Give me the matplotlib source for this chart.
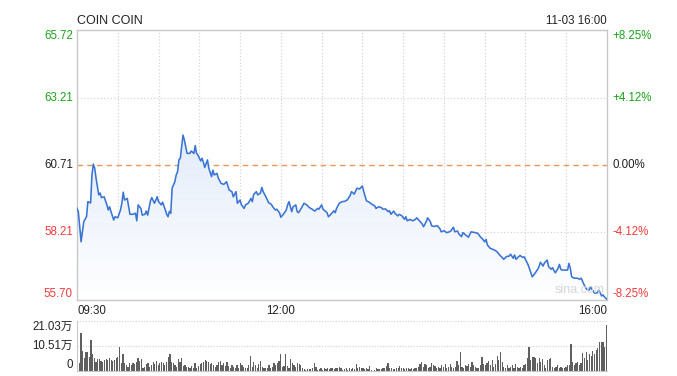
import numpy as np
import matplotlib
matplotlib.use("Agg")
import matplotlib.pyplot as plt
from matplotlib.colors import LinearSegmentedColormap
import matplotlib.transforms as mtransforms

plt.rcParams['font.family'] = ['Liberation Sans', 'Noto Sans CJK SC', 'DejaVu Sans']

# intraday price, minutes after 09:30
minutes = [0, 1, 3, 4, 5, 7, 8, 10, 11, 12, 13, 14, 16, 17, 18, 20, 22, 23, 24, 25, 27, 28, 30,
           32, 33, 34, 35, 37, 38, 39, 41, 43, 44, 45, 47, 48, 50, 51, 52, 54, 55, 57, 59, 60,
           62, 63, 65, 66, 67, 68, 69, 70, 72, 73, 74, 75, 76, 77, 78, 79, 81, 83, 84, 86, 87,
           88, 89, 91, 92, 93, 94, 96, 97, 99, 100, 101, 103, 104, 106, 108, 110, 112, 114, 115,
           117, 118, 120, 121, 123, 124, 126, 128, 129, 130, 132, 133, 135, 136, 137, 139, 141,
           143, 144, 146, 147, 149, 150, 152, 154, 155, 156, 158, 159, 161, 162, 163, 165, 167,
           169, 171, 173, 175, 177, 178, 180, 181, 183, 184, 185, 187, 189, 190, 191, 193, 195,
           197, 199, 201, 202, 204, 206, 208, 209, 210, 211, 213, 215, 217, 219, 220, 222, 224,
           225, 227, 229, 230, 231, 233, 234, 236, 237, 239, 241, 242, 243, 245, 247, 249, 250,
           252, 254, 255, 257, 258, 260, 261, 263, 265, 267, 268, 270, 272, 274, 275, 277, 278,
           280, 281, 283, 284, 286, 288, 290, 292, 293, 295, 297, 298, 300, 301, 302, 304, 306,
           308, 309, 311, 313, 314, 316, 318, 319, 321, 322, 323, 325, 326, 328, 329, 330, 332,
           334, 335, 337, 339, 340, 341, 343, 344, 346, 347, 349, 350, 351, 352, 354, 355, 356,
           357, 359, 361, 362, 363, 364, 366, 368, 370, 371, 373, 375, 377, 378, 380, 381, 383,
           384, 386, 387, 388, 390]
prices = [59.10, 58.97, 57.86, 58.23, 58.61, 58.79, 59.35, 59.30, 60.34, 60.74, 60.60, 60.23,
          59.60, 59.67, 59.50, 59.53, 59.23, 59.04, 59.16, 58.98, 58.67, 58.79, 58.75, 59.04,
          59.29, 59.70, 59.41, 59.47, 59.16, 58.88, 58.88, 58.92, 58.64, 59.23, 59.10, 58.85,
          58.88, 59.00, 58.85, 59.37, 59.50, 59.29, 59.53, 59.35, 59.23, 59.33, 59.04, 58.88,
          58.79, 58.99, 58.92, 59.85, 60.09, 60.34, 60.46, 60.90, 60.96, 61.39, 61.82, 61.64,
          61.14, 61.14, 61.23, 61.14, 61.43, 61.14, 61.08, 60.86, 60.96, 60.81, 60.62, 60.90,
          60.59, 60.28, 60.52, 60.34, 60.40, 60.22, 60.03, 59.99, 60.09, 59.78, 59.72, 59.53,
          59.72, 59.29, 59.41, 59.23, 59.10, 59.23, 59.29, 59.47, 59.35, 59.62, 59.72, 59.60,
          59.67, 59.88, 59.72, 59.53, 59.31, 59.25, 59.16, 59.04, 59.07, 58.94, 58.77, 58.89,
          59.04, 59.23, 59.35, 58.98, 59.16, 59.23, 58.98, 58.94, 59.10, 59.29, 59.23, 59.13,
          59.07, 59.00, 59.10, 59.07, 59.23, 59.07, 58.98, 58.94, 58.79, 58.89, 59.01, 58.94,
          59.10, 59.29, 59.35, 59.36, 59.42, 59.58, 59.72, 59.63, 59.85, 59.82, 59.88, 59.93,
          59.72, 59.38, 59.33, 59.25, 59.20, 59.10, 59.16, 59.13, 59.07, 59.08, 58.98, 59.01,
          58.88, 59.00, 58.92, 58.82, 58.88, 58.83, 58.69, 58.79, 58.64, 58.69, 58.64, 58.69,
          58.75, 58.64, 58.52, 58.42, 58.61, 58.75, 58.61, 58.45, 58.43, 58.46, 58.35, 58.23,
          58.27, 58.20, 58.23, 58.26, 58.40, 58.23, 58.26, 58.15, 58.05, 58.20, 58.11, 58.03,
          58.23, 58.21, 58.20, 58.17, 58.03, 57.99, 57.86, 57.95, 57.74, 57.62, 57.58, 57.53,
          57.49, 57.37, 57.27, 57.21, 57.31, 57.33, 57.40, 57.25, 57.37, 57.21, 57.31, 57.35,
          57.28, 57.30, 57.21, 57.00, 56.71, 56.56, 56.69, 56.84, 56.94, 57.10, 56.96, 57.08,
          57.18, 56.94, 56.84, 56.90, 56.79, 56.71, 56.88, 57.02, 56.84, 56.81, 56.81, 56.81,
          57.06, 56.88, 56.56, 56.51, 56.51, 56.47, 56.51, 56.28, 56.10, 56.07, 56.19, 56.01,
          55.95, 55.97, 56.07, 55.85, 55.89, 55.82, 55.72]

# volume in 万 shares, read left to right across the session
volume = [21.0, 3.2, 15.8, 8.4, 5.3, 7.8, 8.1, 6.0, 13.0, 7.0, 5.3, 3.9, 4.9, 5.0, 4.2, 3.9,
          4.6, 4.9, 4.6, 5.3, 4.6, 4.2, 4.6, 5.6, 6.0, 10.2, 3.2, 7.0, 3.2, 2.5, 1.8, 3.2, 2.5,
          3.2, 2.8, 3.9, 5.3, 4.2, 4.9, 1.4, 1.8, 2.8, 3.2, 1.8, 2.5, 3.9, 2.8, 4.2, 2.5, 3.2,
          3.9, 3.5, 2.5, 3.9, 6.0, 7.0, 3.9, 3.2, 2.5, 1.8, 4.9, 3.9, 5.6, 2.1, 2.5, 1.8, 1.8,
          1.4, 2.2, 1.1, 3.2, 1.4, 2.2, 2.8, 3.2, 3.9, 4.5, 4.2, 3.6, 2.8, 3.2, 2.5, 1.8, 2.5,
          3.9, 4.2, 2.5, 3.2, 2.2, 3.9, 2.1, 1.4, 2.5, 1.8, 1.4, 2.5, 1.4, 3.5, 2.5, 1.8, 1.4,
          1.1, 2.5, 6.3, 1.8, 3.9, 2.5, 1.4, 2.8, 4.2, 1.8, 1.4, 1.1, 1.4, 2.5, 1.4, 1.8, 3.5,
          2.5, 3.2, 4.2, 7.0, 1.8, 2.1, 7.0, 2.1, 1.4, 4.9, 3.5, 2.5, 1.8, 3.2, 2.8, 2.5, 1.1,
          0.8, 0.4, 0.7, 0.7, 0.8, 1.1, 3.5, 1.8, 0.4, 0.7, 1.1, 0.4, 1.4, 0.7, 1.1, 0.8, 1.4,
          1.1, 0.7, 1.4, 1.1, 1.8,
          1.1, 0.4, 0.8, 1.1, 0.4, 1.4, 0.8, 1.1, 0.7, 2.8, 1.4, 1.8, 1.1, 1.4, 0.8, 1.1, 0.7,
          2.2, 0.4, 0.1, 0.4, 1.1, 0.7, 0.8, 0.7, 1.1, 1.4, 2.1, 3.2, 1.4, 1.1, 0.7, 0.7, 1.1,
          1.4, 2.2, 1.1, 1.4, 0.8, 1.4, 1.1, 0.7, 1.4, 0.8, 1.1, 1.4, 1.8, 2.8, 3.6, 1.8, 2.8,
          2.5, 1.4, 1.8, 3.2, 2.5, 2.1, 1.1, 1.8, 1.4, 2.5, 1.8, 2.8, 1.4, 1.8, 2.8, 1.8, 1.1,
          1.8, 4.2, 2.5, 7.8, 1.8, 1.4, 2.5, 2.1, 2.8, 1.8, 3.9, 2.5, 1.8, 1.4, 1.4, 2.5, 6.0,
          2.8, 2.5, 3.2, 4.2, 2.5, 4.6, 1.8, 2.8, 6.4, 4.6, 8.1, 3.9, 1.8, 1.4, 2.5, 1.1, 1.8,
          2.5, 1.4, 2.8, 1.8, 1.1, 1.8, 1.4, 2.5, 2.8, 5.3, 10.2, 4.6, 6.0, 6.0, 5.3, 3.2, 5.3,
          3.9, 5.0, 2.5, 1.1, 4.6, 5.0, 5.3, 1.8, 1.4, 1.8, 2.5, 1.4, 1.8, 1.1, 1.4, 1.8, 2.5,
          2.5, 11.2, 3.9, 2.5, 3.2, 3.9, 2.5, 3.2, 7.7, 5.6, 7.8, 4.6, 7.0, 6.4, 8.4, 7.0, 8.8,
          9.8, 12.3, 12.0, 12.0, 10.2, 19.3]

prev_close = 60.71
price_ticks = [55.70, 58.21, 60.71, 63.21, 65.72]
pct_labels = ['-8.25%', '-4.12%', '0.00%', '+4.12%', '+8.25%']
vol_ticks = [0, 10.51, 21.03]
vol_labels = ['0', '10.51万', '21.03万']
time_ticks = [0, 150, 390]
time_labels = ['09:30', '12:00', '16:00']

GREEN = '#1aa31a'
RED = '#f03c3c'
DARK = '#222222'
LINE = '#3a74d4'
GRID = '#cfcfcf'

fig = plt.figure(figsize=(6.77, 3.76), dpi=100)
ax = fig.add_axes([77/677, 1-300/376, 530/677, 270/376])
axv = fig.add_axes([77/677, 1-371/376, 530/677, 50/376])

# --- price panel ---
ax.set_xlim(0, 390)
ax.set_ylim(price_ticks[0], price_ticks[-1])
for t in range(30, 390, 30):
    ax.axvline(t, color=GRID, lw=0.8, ls=(0, (1, 2)), zorder=1)
for p in [price_ticks[1], price_ticks[3]]:
    ax.axhline(p, color=GRID, lw=0.8, ls=(0, (1, 2)), zorder=1)
ax.axhline(prev_close, color='#f0955a', lw=1.0, ls=(0, (4, 3)), zorder=1)

poly = ax.fill_between(minutes, prices, price_ticks[0], color='none', lw=0)
cmap = LinearSegmentedColormap.from_list('g', ['#ffffff', '#e3ecfa'])
grad = np.linspace(0, 1, 256).reshape(-1, 1)
img = ax.imshow(grad, cmap=cmap, aspect='auto', origin='lower',
                extent=[0, 390, price_ticks[0], max(prices)], zorder=2)
img.set_clip_path(poly.get_paths()[0], transform=ax.transData)
ax.plot(minutes, prices, color=LINE, lw=1.15, zorder=3)

for s in ax.spines.values():
    s.set_color('#c8c8c8')
    s.set_linewidth(1)
ax.set_xticks([])
ax.set_yticks([])

trl = mtransforms.blended_transform_factory(ax.transAxes, ax.transData)
n = len(price_ticks)
for i, (p, pl) in enumerate(zip(price_ticks, pct_labels)):
    col = RED if p < prev_close else (GREEN if p > prev_close else DARK)
    va = 'bottom' if i == 0 else ('top' if i == n - 1 else 'center')
    ax.text(-0.008, p, f'{p:.2f}', transform=trl, ha='right', va=va,
            color=col, fontsize=8.3)
    ax.text(1.011, p, pl, transform=trl, ha='left', va=va, color=col, fontsize=8.3)

for t, lab in zip(time_ticks, time_labels):
    ha = 'left' if t == 0 else ('right' if t == 390 else 'center')
    ax.text(t, -0.018, lab, transform=mtransforms.blended_transform_factory(ax.transData, ax.transAxes),
            ha=ha, va='top', color=DARK, fontsize=8.3)

ax.text(0, 1.012, 'COIN COIN', transform=ax.transAxes, ha='left', va='bottom',
        color=DARK, fontsize=9)
ax.text(1, 1.012, '11-03 16:00', transform=ax.transAxes, ha='right', va='bottom',
        color=DARK, fontsize=8.3)
ax.text(0.995, 0.015, 'sina.com', transform=ax.transAxes, ha='right', va='bottom',
        color='#d6d6d6', fontsize=9)

# --- volume panel ---
vt = np.linspace(0, 390, len(volume))
axv.bar(vt, volume, width=0.9, color='#5f5f5f', align='edge', zorder=2)
axv.set_xlim(0, 391)
axv.set_ylim(0, vol_ticks[-1])
for v in vol_ticks[1:]:
    axv.axhline(v, color=GRID, lw=0.8, ls=(0, (1, 1.5)), zorder=1, clip_on=False)
for k in ['top', 'right']:
    axv.spines[k].set_visible(False)
axv.spines['left'].set_color('#c8c8c8')
axv.spines['bottom'].set_color('#c8c8c8')
axv.set_xticks([])
axv.set_yticks([])
trv = mtransforms.blended_transform_factory(axv.transAxes, axv.transData)
for i, (v, lab) in enumerate(zip(vol_ticks, vol_labels)):
    va = 'bottom' if i == 0 else ('top' if i == 2 else 'center')
    axv.text(-0.008, v, lab, transform=trv, ha='right', va=va, color=DARK, fontsize=8.3)

fig.savefig('out.png', dpi=100)
